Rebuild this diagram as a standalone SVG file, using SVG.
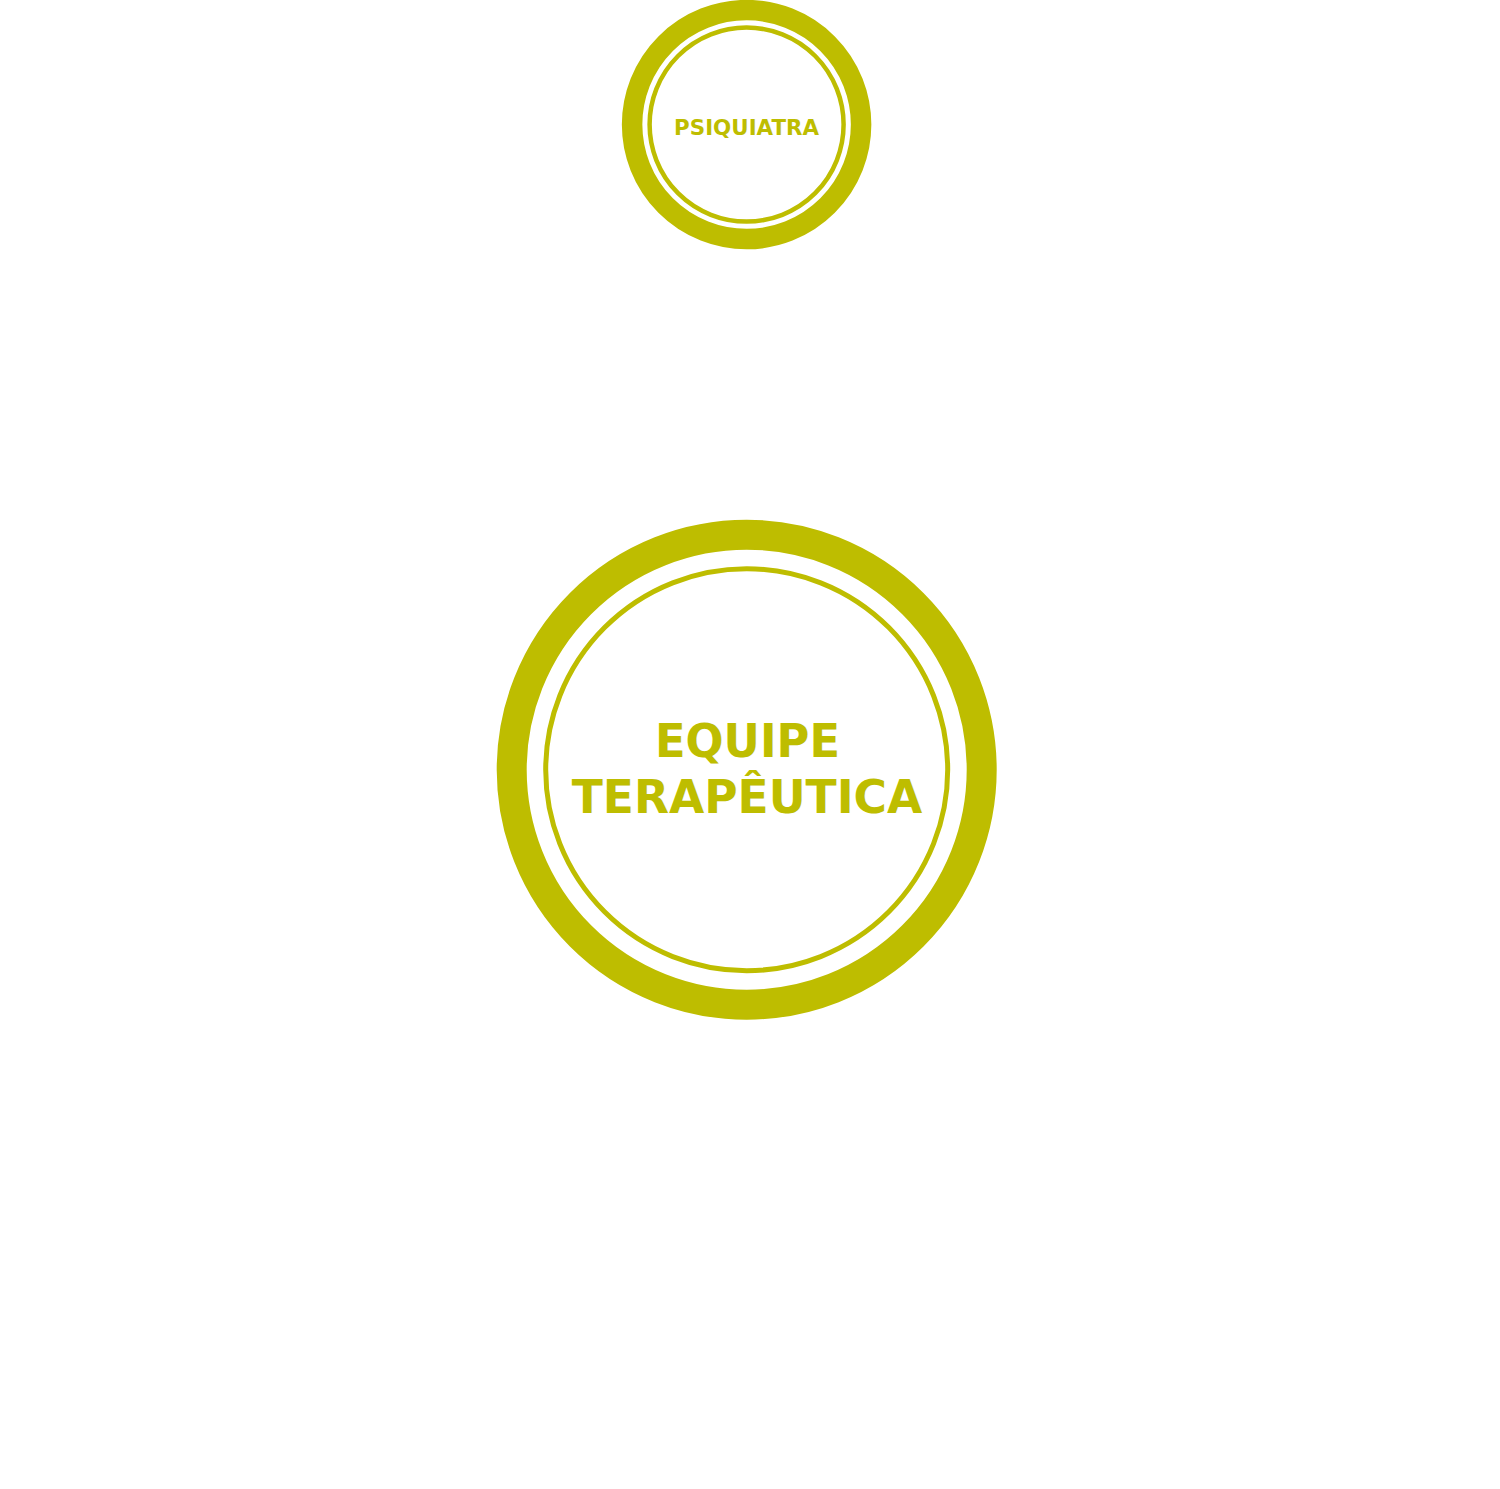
<svg xmlns="http://www.w3.org/2000/svg" width="1500" height="1489" viewBox="0 0 1500 1489">
<style>
.ring{fill:none;stroke:#BEBD00}
.lbl{fill:#BEBD00;font-family:"DejaVu Sans","Liberation Sans",sans-serif;font-weight:bold;text-anchor:middle}
</style>
<rect width="1500" height="1489" fill="#fff"/>
<g id="psiquiatra">
<circle class="ring" cx="746.6" cy="124.6" r="114.5" stroke-width="20.5"/>
<circle class="ring" cx="746.6" cy="124.6" r="97" stroke-width="4.5"/>
<text class="lbl" x="746.6" y="135" font-size="22" textLength="145" lengthAdjust="spacingAndGlyphs">PSIQUIATRA</text>
</g>
<g id="equipe-terapeutica">
<circle class="ring" cx="746.7" cy="769.7" r="235" stroke-width="30"/>
<circle class="ring" cx="746.7" cy="769.7" r="201" stroke-width="5"/>
<text class="lbl" x="747.5" y="756.7" font-size="46.5" textLength="185" lengthAdjust="spacingAndGlyphs">EQUIPE</text>
<text class="lbl" x="747" y="813.3" font-size="46.5" textLength="350.5" lengthAdjust="spacingAndGlyphs">TERAPÊUTICA</text>
</g>
<g id="connectors"/>
</svg>
